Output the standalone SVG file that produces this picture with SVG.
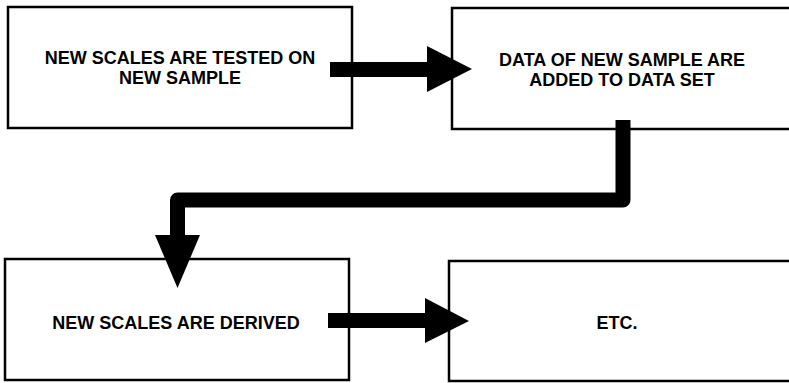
<svg xmlns="http://www.w3.org/2000/svg" width="789" height="383" viewBox="0 0 789 383">
<style>
.box{fill:#fff;stroke:#000;stroke-width:2.5}
.t{font-family:"Liberation Sans",Arial,sans-serif;font-weight:bold;font-size:18px;fill:#000;text-anchor:middle}
.bar{fill:#000}
</style>
<rect width="789" height="383" fill="#fff"/>
<g id="n1"><rect class="box" x="8" y="7" width="344" height="121"/><text class="t" x="180" y="64">NEW SCALES ARE TESTED ON</text><text class="t" x="180" y="84">NEW SAMPLE</text></g>
<g id="n2"><rect class="box" x="452" y="8" width="340" height="121"/><text class="t" x="622" y="65.5">DATA OF NEW SAMPLE ARE</text><text class="t" x="622" y="85.5">ADDED TO DATA SET</text></g>
<g id="n3"><rect class="box" x="5" y="259" width="344" height="121"/><text class="t" x="176" y="329">NEW SCALES ARE DERIVED</text></g>
<g id="n4"><rect class="box" x="449" y="261" width="343" height="120"/><text class="t" x="617" y="329">ETC.</text></g>
<g id="connectors">
<rect class="bar" x="330" y="62" width="98" height="15"/>
<polygon class="bar" points="427,46 427,92 472,69"/>
<rect class="bar" x="328" y="313" width="98" height="15"/>
<polygon class="bar" points="425,298 425,343 469,321"/>
<path d="M623,120 V200 H177.5 V237" fill="none" stroke="#000" stroke-width="15" stroke-linejoin="round"/>
<polygon class="bar" points="155,235 200,235 177.5,288"/>
</g>
</svg>
